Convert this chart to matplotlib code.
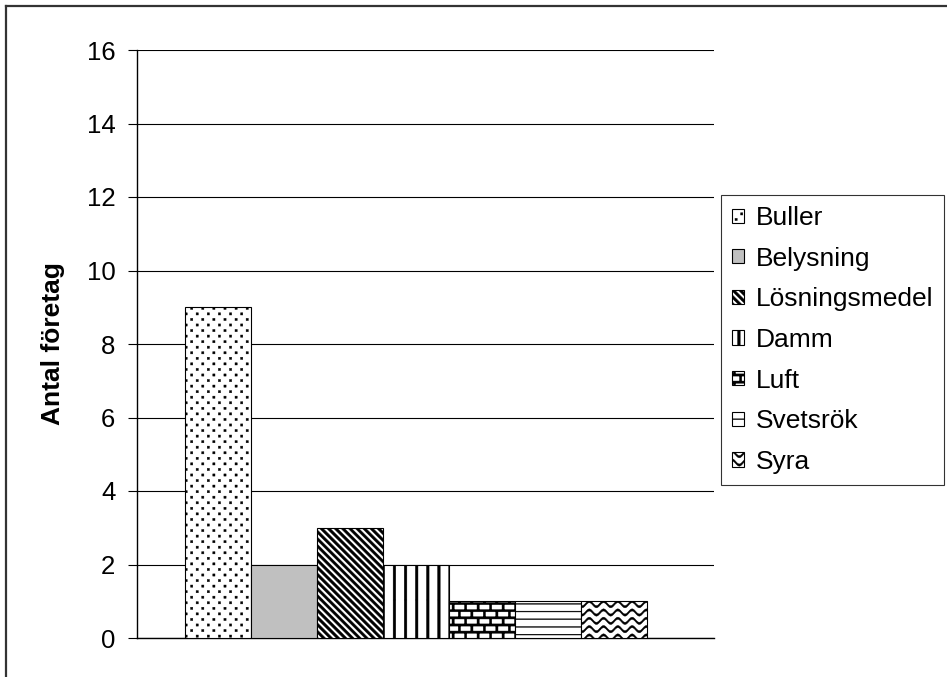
import warnings
import numpy as np
import matplotlib
matplotlib.use("Agg")
import matplotlib.pyplot as plt
import matplotlib.hatch as mhatch
from matplotlib.path import Path
from matplotlib.lines import Line2D

warnings.filterwarnings("ignore")

# ---- data -------------------------------------------------------------
categories = ["Buller", "Belysning", "Lösningsmedel", "Damm", "Luft", "Svetsrök", "Syra"]
values = [9, 2, 3, 2, 1, 1, 1]
y_ticks = [0, 2, 4, 6, 8, 10, 12, 14, 16]
y_label = "Antal företag"

# ---- custom fill patterns (unit tile = 1 inch) ----------------------------
MOVE, LINE, CLOSE = Path.MOVETO, Path.LINETO, Path.CLOSEPOLY


def _poly(pts):
    pts = list(pts)
    verts = pts + [pts[0]]
    codes = [MOVE] + [LINE] * (len(pts) - 1) + [CLOSE]
    return verts, codes


def _rect(x0, y0, x1, y1):
    return _poly([(x0, y0), (x1, y0), (x1, y1), (x0, y1)])


def pat_dots():
    out = []
    cols, rows, h = 9, 18, 0.011
    for k in range(rows):
        off = 0.5 * (k % 2)
        y = (k + 0.5) / rows
        for j in range(cols):
            x = (j + 0.25 + off) / cols
            out.append(_rect(x - h, y - h, x + h, y + h))
    return out


def pat_diag():
    out = []
    k, d = 14, 1 / 56
    for j in range(0, 2 * k + 1):
        c = j / k
        out.append(_poly([(c - d, 0), (c + d, 0), (c + d - 1, 1), (c - d - 1, 1)]))
    return out


def pat_vert():
    out = []
    n, d = 9, 0.013
    for j in range(n):
        x = (j + 0.5) / n
        out.append(_rect(x - d, 0, x + d, 1))
    return out


def pat_brick():
    out = []
    rows, cols, d = 14, 8, 0.011
    for k in range(rows):
        y = (k + 0.5) / rows
        out.append(_rect(0, y - d, 1, y + d))
        off = 0.5 * (k % 2)
        for j in range(cols):
            x = (j + 0.25 + off) / cols
            out.append(_rect(x - d, y, x + d, y + 1 / rows))
    return out


def pat_horiz():
    out = []
    n, d = 13, 0.004
    for k in range(n):
        y = (k + 0.5) / n
        out.append(_rect(0, y - d, 1, y + d))
    return out


def pat_wave():
    out = []
    rows, periods, amp, d = 12, 7, 0.026, 0.011
    xs = np.linspace(0, 1, periods * 12 + 1)
    for k in range(rows):
        y0 = (k + 0.5) / rows
        ys = y0 + amp * np.sin(2 * np.pi * periods * xs)
        upper = list(zip(xs, ys + d))
        lower = list(zip(xs[::-1], (ys - d)[::-1]))
        out.append(_poly(upper + lower))
    return out


PATTERNS = {"d": pat_dots, "z": pat_diag, "v": pat_vert,
            "b": pat_brick, "h": pat_horiz, "w": pat_wave}


class ShapeFillHatch(mhatch.HatchPatternBase):
    def __init__(self, hatch, density):
        verts, codes = [], []
        for ch, fn in PATTERNS.items():
            if ch in hatch:
                for v, c in fn():
                    verts.extend(v)
                    codes.extend(c)
        self._verts = np.array(verts, dtype=float).reshape(-1, 2)
        self._codes = np.array(codes, dtype=Path.code_type)
        self.num_vertices = len(self._verts)

    def set_vertices_and_codes(self, vertices, codes):
        vertices[:] = self._verts
        codes[:] = self._codes


mhatch._hatch_types.append(ShapeFillHatch)

fills = ["white", "#c0c0c0", "white", "white", "white", "white", "white"]
hatches = ["d", None, "z", "v", "b", "h", "w"]

# ---- figure ------------------------------------------------------------
plt.rcParams["font.family"] = ["Liberation Sans", "DejaVu Sans"]
plt.rcParams["hatch.linewidth"] = 0.3
plt.rcParams["hatch.color"] = "black"

W, H = 947, 677
fig = plt.figure(figsize=(W / 100, H / 100), dpi=100)
ax = fig.add_axes([137 / W, 1 - 638 / H, (714 - 137) / W, (638 - 50) / H])

x = np.arange(len(categories))
for i, (cat, val) in enumerate(zip(categories, values)):
    ax.bar(x[i], val, width=1.0, color=fills[i], edgecolor="black",
           linewidth=0.8, hatch=hatches[i], label=cat, zorder=3)

ax.set_xlim(-1.227, 7.515)
ax.set_ylim(0, 16)
ax.set_yticks(y_ticks)
ax.set_xticks([])
ax.yaxis.grid(True, color="black", linewidth=0.8, zorder=0)
ax.set_axisbelow(True)
for s in ("top", "right"):
    ax.spines[s].set_visible(False)
ax.spines["left"].set_linewidth(1.0)
ax.spines["bottom"].set_linewidth(1.0)
ax.tick_params(axis="y", length=6.5, width=0.8, pad=9, labelsize=18.5)
ax.set_ylabel(y_label, fontsize=19, fontweight="bold", labelpad=16)

leg = fig.legend(loc="upper left", bbox_to_anchor=(721 / W, 1 - 195 / H),
                 bbox_transform=fig.transFigure, fontsize=19, frameon=True,
                 fancybox=False, borderpad=0.42, labelspacing=0.63,
                 handlelength=0.45, handleheight=0.45, handletextpad=0.45,
                 borderaxespad=0)
leg.get_frame().set_edgecolor("black")
leg.get_frame().set_linewidth(0.8)

# outer frame of the chart area
fig.add_artist(Line2D([6 / W, 6 / W], [0, 1 - 6 / H], color="#333333", lw=1.6,
                      transform=fig.transFigure))
fig.add_artist(Line2D([6 / W, 1], [1 - 6 / H, 1 - 6 / H], color="#333333", lw=1.6,
                      transform=fig.transFigure))

fig.savefig("out.png", dpi=100)
